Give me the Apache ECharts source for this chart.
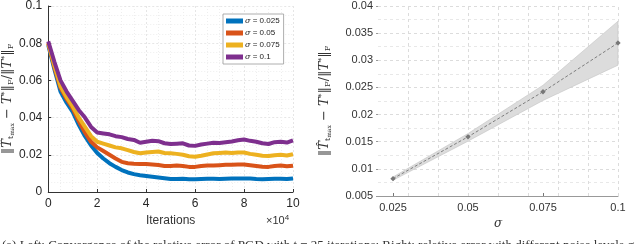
<!DOCTYPE html>
<html><head><meta charset="utf-8">
<script src="https://cdn.jsdelivr.net/npm/echarts@6/dist/echarts.min.js"></script>
<style>html,body{margin:0;padding:0;background:#fff}#c{width:640px;height:244px}</style>
</head><body><div id="c"></div>
<script>
// Left panel: iterations (step 2500) and relative error per noise level
const iterations = [0,2500,5000,7500,10000,12500,15000,17500,20000,22500,25000,27500,30000,32500,35000,37500,40000,42500,45000,47500,50000,52500,55000,57500,60000,62500,65000,67500,70000,72500,75000,77500,80000,82500,85000,87500,90000,92500,95000,97500,100000];
const err025 = [0.079,0.066,0.054,0.048,0.043,0.036,0.030,0.025,0.021,0.018,0.0155,0.0135,0.0118,0.0105,0.0096,0.0090,0.0086,0.0082,0.0078,0.0074,0.0070,0.0070,0.0071,0.0068,0.0068,0.0070,0.0071,0.0071,0.0070,0.0071,0.0072,0.0073,0.0073,0.0072,0.0070,0.0069,0.0070,0.0071,0.0071,0.0070,0.0073];
const err05 = [0.080,0.067,0.056,0.050,0.045,0.038,0.032,0.027,0.024,0.022,0.020,0.018,0.0162,0.0155,0.0152,0.0150,0.0150,0.0148,0.0145,0.0140,0.0140,0.0142,0.0140,0.0135,0.0135,0.0140,0.0143,0.0142,0.0144,0.0146,0.0147,0.0148,0.0148,0.0144,0.0140,0.0136,0.0135,0.0140,0.0142,0.0138,0.0141];
const err075 = [0.080,0.068,0.057,0.051,0.046,0.040,0.035,0.030,0.027,0.026,0.0250,0.0240,0.0235,0.0225,0.0215,0.0208,0.0212,0.0215,0.0218,0.0210,0.0208,0.0205,0.0200,0.0192,0.0190,0.0195,0.0202,0.0208,0.0210,0.0212,0.0210,0.0212,0.0212,0.0205,0.0200,0.0195,0.0193,0.0198,0.0200,0.0196,0.0203];
const err1 = [0.081,0.070,0.060,0.054,0.049,0.044,0.040,0.035,0.032,0.0315,0.031,0.0300,0.0295,0.0285,0.0280,0.0265,0.0270,0.0275,0.0273,0.0262,0.0258,0.0260,0.0262,0.0250,0.0248,0.0255,0.0260,0.0265,0.0264,0.0268,0.0272,0.0278,0.0282,0.0275,0.0270,0.0262,0.0258,0.0268,0.0270,0.0266,0.0278];
const legendNames = ['σ = 0.025','σ = 0.05','σ = 0.075','σ = 0.1'];
const leftYTicks = [0,0.02,0.04,0.06,0.08,0.1];
const leftXTicks = [0,2,4,6,8,10];

// Right panel: final error vs noise level
const sigmas = [0.025,0.05,0.075,0.1];
const meanErr = [0.0082,0.0159,0.0242,0.0332];
const lowErr = [0.0079,0.0151,0.0226,0.0291];
const highErr = [0.0085,0.0165,0.0254,0.0372];
const rightXTicks = [0.025,0.05,0.075,0.1];
const rightGridX = [0.025,0.04,0.045,0.05,0.06,0.065,0.075,0.08,0.085,0.1];

const colors = ['#0072BD','#D95319','#EDB120','#7E2F8E'];
const errs = [err025, err05, err075, err1];
const font = 'Liberation Sans, Arial, sans-serif';

const yName = '{n|‖}{i|T\u0302}{sub|t}{sub2|max}{n| − }{i|T}{sup|*}{n|‖}{sub|F}{n|/‖}{i|T}{sup|*}{n|‖}{sub|F}';
const nameRich = {
  n:{fontSize:13,fontFamily:'DejaVu Serif, serif',color:'#333'},
  i:{fontSize:13,fontFamily:'DejaVu Serif, serif',fontStyle:'italic',color:'#333'},
  sub:{fontSize:8,fontFamily:'DejaVu Serif, serif',color:'#333',verticalAlign:'bottom',padding:[6,0,0,0]},
  sub2:{fontSize:6,fontFamily:'DejaVu Serif, serif',color:'#333',verticalAlign:'bottom',padding:[8,0,0,0]},
  sup:{fontSize:8,fontFamily:'DejaVu Serif, serif',color:'#333',verticalAlign:'top',padding:[0,0,6,0]}
};

const series = [];
errs.forEach((e,k)=>{
  series.push({name:legendNames[k],type:'line',xAxisIndex:0,yAxisIndex:0,showSymbol:false,symbol:'none',
    data:iterations.map((x,j)=>[x,e[j]]),lineStyle:{width:4,color:colors[k]},itemStyle:{color:colors[k]},z:2+k});
});
// grid lines right panel (vertical)
series.push({type:'line',xAxisIndex:1,yAxisIndex:1,data:[],silent:true,
  markLine:{silent:true,symbol:'none',label:{show:false},lineStyle:{type:[3,3],color:'#dcdcdc',width:1},
    data:rightGridX.map(v=>({xAxis:v}))}});
// shaded band between low and high
const bandData = sigmas.map((s,j)=>[s,lowErr[j],highErr[j]]);
series.push({type:'custom',xAxisIndex:1,yAxisIndex:1,silent:true,z:3,data:bandData,
  encode:{x:0,y:[1,2]},
  renderItem:function(params,api){
    if(params.dataIndex!==0) return null;
    const up = bandData.map(d=>api.coord([d[0],d[2]]));
    const lo = bandData.map(d=>api.coord([d[0],d[1]])).reverse();
    return {type:'polygon',shape:{points:up.concat(lo)},style:{fill:'#dcdcdc',stroke:'#c4c4c4',lineWidth:0.6}};
  }});
series.push({type:'line',xAxisIndex:1,yAxisIndex:1,data:sigmas.map((s,j)=>[s,meanErr[j]]),
  symbol:'emptyDiamond',symbolSize:2.5,lineStyle:{type:[3,2],width:0.8,color:'#666'},itemStyle:{color:'#777',borderWidth:0.8},z:5});

const option = {
  animation:false,
  backgroundColor:'#fff',
  grid:[{left:45,top:5,width:248,height:187},{left:378,top:6,width:240,height:190}],
  legend:{data:legendNames,top:14,orient:'vertical',left:223,itemWidth:17,itemHeight:5,itemGap:4,
    icon:'rect',backgroundColor:'#fff',borderColor:'#999',borderWidth:0.8,padding:[3,4,3,3],
    textStyle:{fontSize:8,fontFamily:font,color:'#222',padding:[0,0,0,-3],
      rich:{s:{fontStyle:'italic',fontFamily:'DejaVu Serif, serif',fontSize:8,color:'#222'}}},
    formatter:n=>'{s|σ}'+n.slice(1)},
  xAxis:[
    {type:'value',gridIndex:0,min:0,max:100000,interval:20000,
     name:'Iterations',nameLocation:'middle',nameGap:19,nameTextStyle:{fontSize:12,fontFamily:font,color:'#333'},
     axisLine:{lineStyle:{color:'#333',width:1}},axisTick:{inside:true,length:3,lineStyle:{color:'#333'}},
     axisLabel:{fontSize:12,fontFamily:font,color:'#262626',margin:6,formatter:v=>String(v/10000)},
     splitLine:{show:true,lineStyle:{color:'#e6e6e6',type:[2,2]}},
     minorTick:{show:false,splitNumber:4},minorSplitLine:{show:true,lineStyle:{color:'#eeeeee',type:[1,2]}}},
    {type:'value',gridIndex:1,min:0.02,max:0.1,
     name:'σ',nameLocation:'middle',nameGap:20,nameTextStyle:{fontSize:12,fontFamily:'DejaVu Serif, serif',fontStyle:'italic',color:'#333'},
     axisLine:{lineStyle:{color:'#999'}},axisTick:{customValues:rightXTicks,inside:true,length:3,lineStyle:{color:'#777'}},
     axisLabel:{customValues:rightXTicks,fontSize:11,fontFamily:font,color:'#333',margin:6,formatter:v=>String(+v.toFixed(3))},
     splitLine:{show:false}}
  ],
  yAxis:[
    {type:'value',gridIndex:0,min:0,max:0.1,interval:0.02,
     name:yName,nameLocation:'middle',nameGap:28,nameTextStyle:{rich:nameRich},
     axisLine:{show:true,lineStyle:{color:'#333'}},axisTick:{inside:true,length:3,lineStyle:{color:'#333'}},
     axisLabel:{fontSize:12,fontFamily:font,color:'#262626',margin:6,formatter:v=>String(+v.toFixed(2))},
     splitLine:{show:true,lineStyle:{color:'#e6e6e6',type:[2,2]}},
     minorTick:{show:false,splitNumber:4},minorSplitLine:{show:true,lineStyle:{color:'#eeeeee',type:[1,2]}}},
    {type:'value',gridIndex:1,min:0.005,max:0.04,interval:0.005,
     name:yName,nameLocation:'middle',nameGap:46,nameTextStyle:{rich:nameRich},
     axisLine:{show:false},axisTick:{show:true,length:2,lineStyle:{color:'#999'}},
     axisLabel:{fontSize:11,fontFamily:font,color:'#333',margin:5,formatter:v=>String(+v.toFixed(3))},
     splitLine:{show:true,lineStyle:{color:'#dcdcdc',type:[3,3]}},
     minorTick:{show:false,splitNumber:2},minorSplitLine:{show:true,lineStyle:{color:'#e8e8e8',type:[3,3]}}}
  ],
  graphic:[
    {type:'text',left:266,top:214,style:{text:'×10{s|4}',fontSize:11,fontFamily:font,fill:'#333',
      rich:{s:{fontSize:8,verticalAlign:'top',padding:[0,0,5,0],fontFamily:font,fill:'#333'}}}},
    {type:'text',left:2,top:239,style:{text:'(a) Left: Convergence of the relative error of PGD with t = 25 iterations; Right: relative error with different noise levels σ. (b) Right',
      fontSize:13,fontFamily:'Liberation Serif, serif',fill:'#333'}}
  ],
  series:series
};
const chart = echarts.init(document.getElementById('c'),null,{renderer:'canvas'});
chart.setOption(option);
</script></body></html>
